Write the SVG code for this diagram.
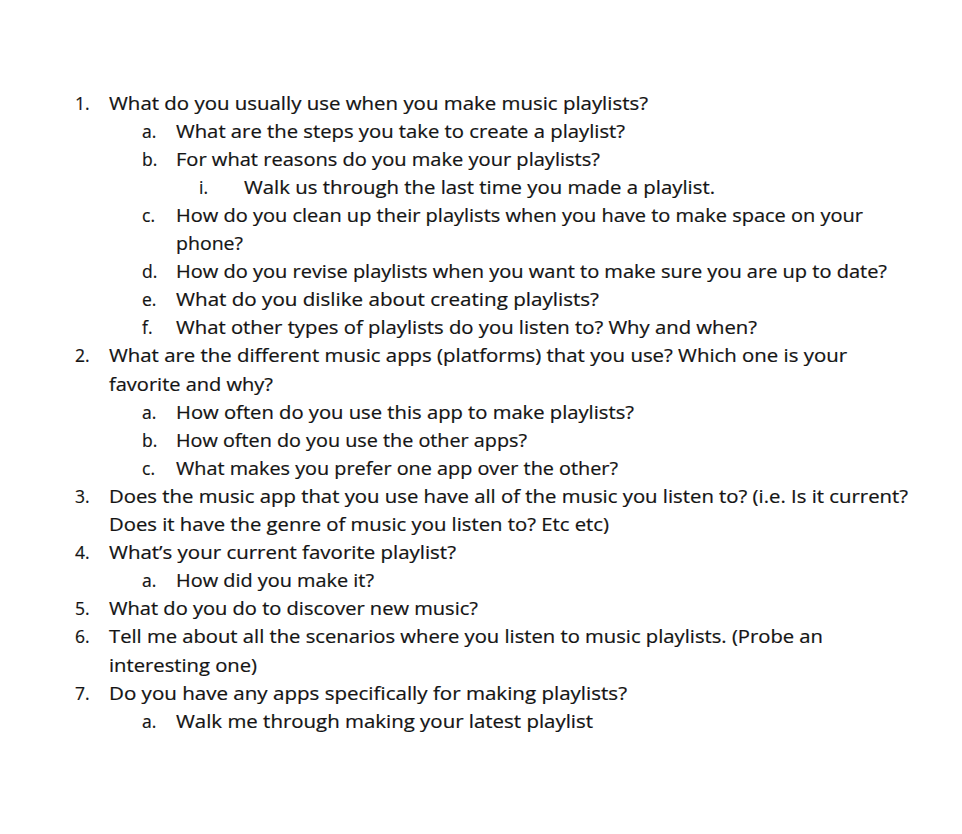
<svg xmlns="http://www.w3.org/2000/svg" width="962" height="834" viewBox="0 0 962 834">
<style>
text{font-family:"Open Sans","Noto Sans","Liberation Sans",sans-serif;font-size:17.5px;fill:#141414;stroke:#141414;stroke-width:0.2}
</style>
<rect x="0" y="0" width="962" height="834" fill="#ffffff"/>
<g id="q1">
<text x="75" y="109.5">1.</text>
<text x="109" y="109.5" textLength="539" lengthAdjust="spacingAndGlyphs">What do you usually use when you make music playlists?</text>
<text x="142" y="137.6">a.</text>
<text x="176" y="137.6" textLength="449" lengthAdjust="spacingAndGlyphs">What are the steps you take to create a playlist?</text>
<text x="142" y="165.7">b.</text>
<text x="176" y="165.7" textLength="424" lengthAdjust="spacingAndGlyphs">For what reasons do you make your playlists?</text>
<text x="199" y="193.8">i.</text>
<text x="244" y="193.8" textLength="471" lengthAdjust="spacingAndGlyphs">Walk us through the last time you made a playlist.</text>
<text x="142" y="221.9">c.</text>
<text x="176" y="221.9" textLength="687" lengthAdjust="spacingAndGlyphs">How do you clean up their playlists when you have to make space on your</text>
<text x="176" y="250.0" textLength="67" lengthAdjust="spacingAndGlyphs">phone?</text>
<text x="142" y="278.1">d.</text>
<text x="176" y="278.1" textLength="711" lengthAdjust="spacingAndGlyphs">How do you revise playlists when you want to make sure you are up to date?</text>
<text x="142" y="306.2">e.</text>
<text x="176" y="306.2" textLength="423" lengthAdjust="spacingAndGlyphs">What do you dislike about creating playlists?</text>
<text x="142" y="334.3">f.</text>
<text x="176" y="334.3" textLength="581" lengthAdjust="spacingAndGlyphs">What other types of playlists do you listen to? Why and when?</text>
</g>
<g id="q2">
<text x="75" y="362.4">2.</text>
<text x="109" y="362.4" textLength="738" lengthAdjust="spacingAndGlyphs">What are the different music apps (platforms) that you use? Which one is your</text>
<text x="109" y="390.5" textLength="164" lengthAdjust="spacingAndGlyphs">favorite and why?</text>
<text x="142" y="418.6">a.</text>
<text x="176" y="418.6" textLength="458" lengthAdjust="spacingAndGlyphs">How often do you use this app to make playlists?</text>
<text x="142" y="446.7">b.</text>
<text x="176" y="446.7" textLength="351" lengthAdjust="spacingAndGlyphs">How often do you use the other apps?</text>
<text x="142" y="474.8">c.</text>
<text x="176" y="474.8" textLength="442" lengthAdjust="spacingAndGlyphs">What makes you prefer one app over the other?</text>
</g>
<g id="q3">
<text x="75" y="502.9">3.</text>
<text x="109" y="502.9" textLength="799" lengthAdjust="spacingAndGlyphs">Does the music app that you use have all of the music you listen to? (i.e. Is it current?</text>
<text x="109" y="531.0" textLength="500" lengthAdjust="spacingAndGlyphs">Does it have the genre of music you listen to? Etc etc)</text>
</g>
<g id="q4">
<text x="75" y="559.1">4.</text>
<text x="109" y="559.1" textLength="347" lengthAdjust="spacingAndGlyphs">What’s your current favorite playlist?</text>
<text x="142" y="587.2">a.</text>
<text x="176" y="587.2" textLength="198" lengthAdjust="spacingAndGlyphs">How did you make it?</text>
</g>
<g id="q5">
<text x="75" y="615.3">5.</text>
<text x="109" y="615.3" textLength="369" lengthAdjust="spacingAndGlyphs">What do you do to discover new music?</text>
</g>
<g id="q6">
<text x="75" y="643.4">6.</text>
<text x="109" y="643.4" textLength="714" lengthAdjust="spacingAndGlyphs">Tell me about all the scenarios where you listen to music playlists. (Probe an</text>
<text x="109" y="671.5" textLength="148" lengthAdjust="spacingAndGlyphs">interesting one)</text>
</g>
<g id="q7">
<text x="75" y="699.6">7.</text>
<text x="109" y="699.6" textLength="518" lengthAdjust="spacingAndGlyphs">Do you have any apps specifically for making playlists?</text>
<text x="142" y="727.7">a.</text>
<text x="176" y="727.7" textLength="417" lengthAdjust="spacingAndGlyphs">Walk me through making your latest playlist</text>
</g>
</svg>
